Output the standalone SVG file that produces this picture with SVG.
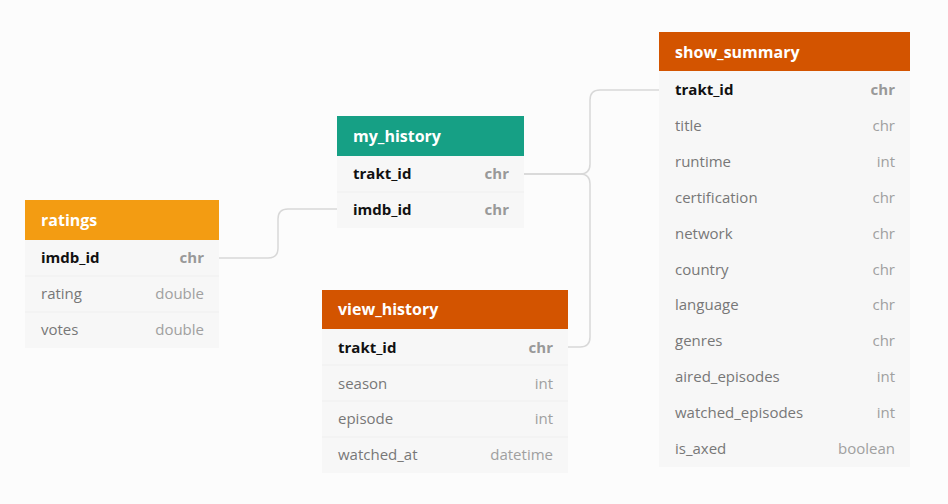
<svg xmlns="http://www.w3.org/2000/svg" width="948" height="504" viewBox="0 0 948 504">
<style>
.bg{fill:#fcfcfc}
.tbl{fill:#f7f7f7}
.sep{stroke:#efefef;stroke-width:1}
.hd{font-family:"Open Sans","DejaVu Sans",sans-serif;font-size:16px;font-weight:bold;fill:#ffffff}
.k{font-family:"Open Sans","DejaVu Sans",sans-serif;font-size:15px;font-weight:bold;fill:#111111}
.kt{font-family:"Open Sans","DejaVu Sans",sans-serif;font-size:15px;font-weight:bold;fill:#999999;text-anchor:end}
.f{font-family:"Open Sans","DejaVu Sans",sans-serif;font-size:15px;fill:#777777}
.ft{font-family:"Open Sans","DejaVu Sans",sans-serif;font-size:15px;fill:#a0a0a0;text-anchor:end}
.c{fill:none;stroke:#d8d8d8;stroke-width:1.5}
</style>
<rect class="bg" x="0" y="0" width="948" height="504"/>
<g id="connectors">
<path class="c" d="M219,258 H268 Q278,258 278,248 V219 Q278,209 288,209 H337"/>
<path class="c" d="M524,174 H580 Q590,174 590,164 V100 Q590,90 600,90 H659"/>
<path class="c" d="M568,347 H580 Q590,347 590,337 V184 Q590,174 580,174 H524"/>
</g>
<g id="ratings">
<rect class="tbl" x="25" y="200" width="194" height="148"/>
<rect x="25" y="200" width="194" height="40" fill="#f39c12"/>
<text class="hd" x="41" y="226">ratings</text>
<line class="sep" x1="25" y1="276" x2="219" y2="276"/>
<line class="sep" x1="25" y1="312" x2="219" y2="312"/>
<text class="k" x="41" y="263">imdb_id</text><text class="kt" x="204" y="263">chr</text>
<text class="f" x="41" y="299">rating</text><text class="ft" x="204" y="299">double</text>
<text class="f" x="41" y="335">votes</text><text class="ft" x="204" y="335">double</text>
</g>
<g id="my_history">
<rect class="tbl" x="337" y="116" width="187" height="112"/>
<rect x="337" y="116" width="187" height="40" fill="#16a085"/>
<text class="hd" x="353" y="142">my_history</text>
<line class="sep" x1="337" y1="192" x2="524" y2="192"/>
<text class="k" x="353" y="179">trakt_id</text><text class="kt" x="509" y="179">chr</text>
<text class="k" x="353" y="215">imdb_id</text><text class="kt" x="509" y="215">chr</text>
</g>
<g id="view_history">
<rect class="tbl" x="322" y="290" width="246" height="183"/>
<rect x="322" y="290" width="246" height="39" fill="#d35400"/>
<text class="hd" x="338" y="315">view_history</text>
<line class="sep" x1="322" y1="365" x2="568" y2="365"/>
<line class="sep" x1="322" y1="401" x2="568" y2="401"/>
<line class="sep" x1="322" y1="437" x2="568" y2="437"/>
<text class="k" x="338" y="353">trakt_id</text><text class="kt" x="553" y="353">chr</text>
<text class="f" x="338" y="389">season</text><text class="ft" x="553" y="389">int</text>
<text class="f" x="338" y="424">episode</text><text class="ft" x="553" y="424">int</text>
<text class="f" x="338" y="460">watched_at</text><text class="ft" x="553" y="460">datetime</text>
</g>
<g id="show_summary">
<rect class="tbl" x="659" y="32" width="251" height="435"/>
<rect x="659" y="32" width="251" height="39" fill="#d35400"/>
<text class="hd" x="675" y="58">show_summary</text>
<text class="k" x="675" y="95">trakt_id</text><text class="kt" x="895" y="95">chr</text>
<text class="f" x="675" y="131">title</text><text class="ft" x="895" y="131">chr</text>
<text class="f" x="675" y="167">runtime</text><text class="ft" x="895" y="167">int</text>
<text class="f" x="675" y="203">certification</text><text class="ft" x="895" y="203">chr</text>
<text class="f" x="675" y="239">network</text><text class="ft" x="895" y="239">chr</text>
<text class="f" x="675" y="275">country</text><text class="ft" x="895" y="275">chr</text>
<text class="f" x="675" y="310">language</text><text class="ft" x="895" y="310">chr</text>
<text class="f" x="675" y="346">genres</text><text class="ft" x="895" y="346">chr</text>
<text class="f" x="675" y="382">aired_episodes</text><text class="ft" x="895" y="382">int</text>
<text class="f" x="675" y="418">watched_episodes</text><text class="ft" x="895" y="418">int</text>
<text class="f" x="675" y="454">is_axed</text><text class="ft" x="895" y="454">boolean</text>
</g>
</svg>
